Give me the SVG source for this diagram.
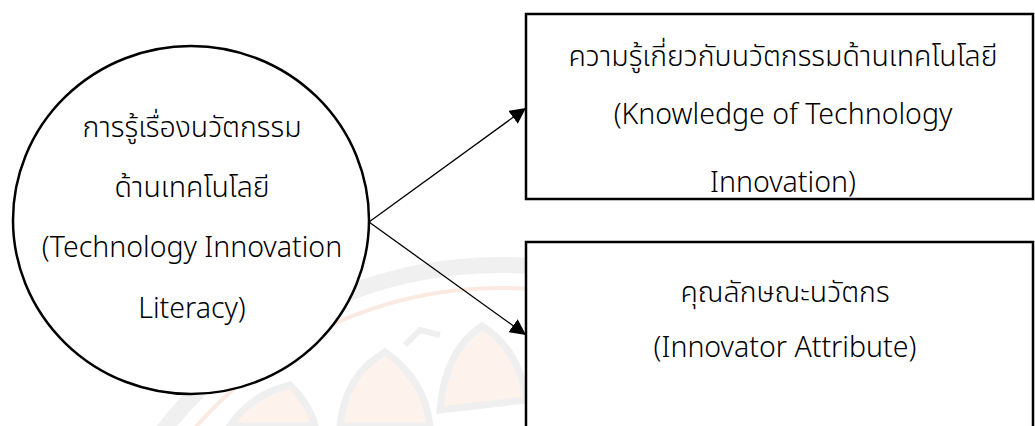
<svg xmlns="http://www.w3.org/2000/svg" width="1035" height="426" viewBox="0 0 1035 426">
<style>
.t{font-family:"Noto Sans Thai","Noto Sans","Liberation Sans",sans-serif;font-size:28.5px;fill:#000;text-anchor:middle;font-weight:300}
.shape{fill:#fff;stroke:#000;stroke-width:2.5}
.wm{fill:none;stroke:#f0f0f0}
.petal{fill:#fdf2ec;stroke:#efefef;stroke-width:7}
.conn{stroke:#000;stroke-width:1.3;fill:none}
</style>
<defs>
<marker id="ah" viewBox="0 0 10 10" refX="10" refY="5" markerWidth="16" markerHeight="16" markerUnits="userSpaceOnUse" orient="auto">
<path d="M0,0 L10,5 L0,10 z" fill="#000"/>
</marker>
</defs>
<rect width="1035" height="426" fill="#fff"/>
<g id="watermark">
<circle class="wm" stroke-width="16" cx="500" cy="690" r="425"/>
<circle fill="none" stroke="#fbeae1" stroke-width="4" cx="500" cy="690" r="402"/>
<path class="petal" d="M340,426 Q345,375 385,352 Q425,380 430,426 z"/>
<path class="petal" d="M440,410 Q445,350 482,326 Q520,350 526,400 z"/>
<path class="petal" d="M230,426 Q250,395 290,385 Q310,405 315,426 z"/>
<path fill="none" stroke="#efefef" stroke-width="6" d="M405,345 L420,330 L440,335"/>
</g>
<g id="connectors">
<line class="conn" x1="369" y1="222" x2="526" y2="108" marker-end="url(#ah)"/>
<line class="conn" x1="369" y1="222" x2="526" y2="335" marker-end="url(#ah)"/>
</g>
<g id="node-literacy">
<ellipse class="shape" cx="191" cy="220" rx="178" ry="174"/>
<text class="t" x="192" y="137">การรู้เรื่องนวัตกรรม</text>
<text class="t" x="192" y="197">ด้านเทคโนโลยี</text>
<text class="t" x="192" y="257">(Technology Innovation</text>
<text class="t" x="192" y="318">Literacy)</text>
</g>
<g id="node-knowledge">
<rect class="shape" x="526" y="14" width="507" height="185"/>
<text class="t" x="783" y="66">ความรู้เกี่ยวกับนวัตกรรมด้านเทคโนโลยี</text>
<text class="t" x="783" y="124">(Knowledge of Technology</text>
<text class="t" x="783" y="192">Innovation)</text>
</g>
<g id="node-attribute">
<path class="shape" d="M526,430 L526,242 L1033,242 L1033,430"/>
<text class="t" x="785" y="302">คุณลักษณะนวัตกร</text>
<text class="t" x="785" y="357">(Innovator Attribute)</text>
</g>
</svg>
